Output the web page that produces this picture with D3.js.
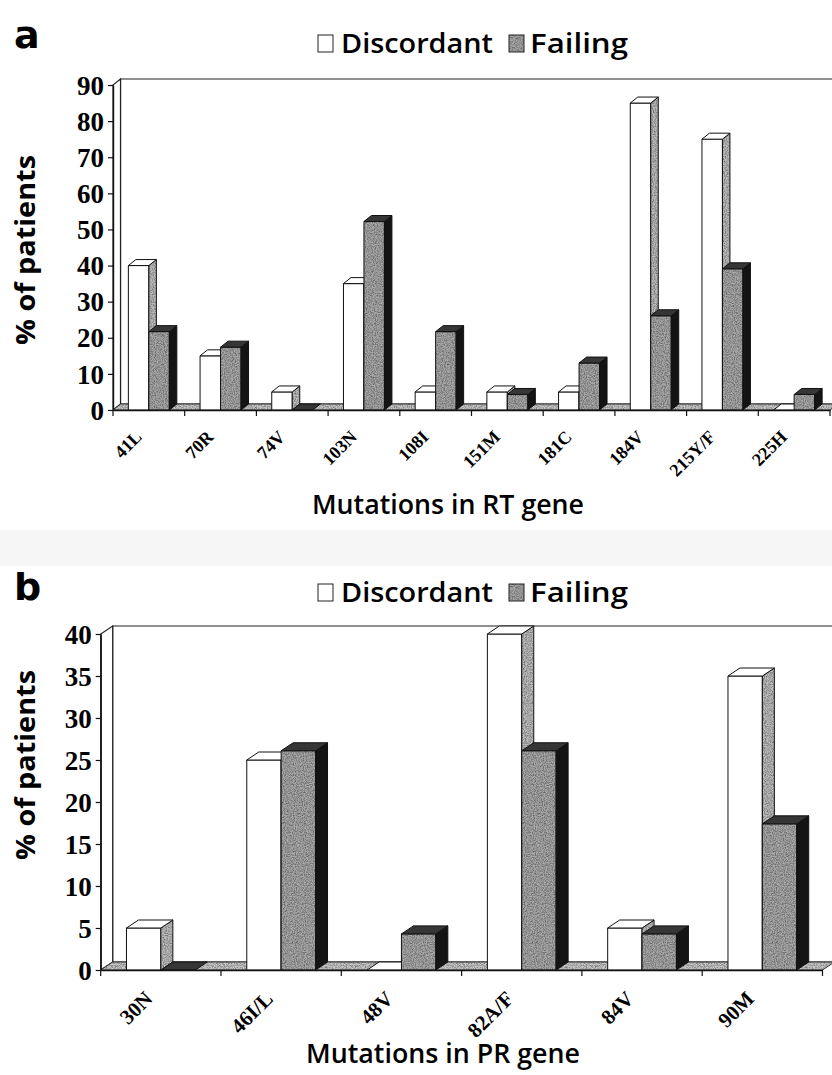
<!DOCTYPE html>
<html><head><meta charset="utf-8">
<script src="https://cdn.jsdelivr.net/npm/d3@7"></script>
<style>html,body{margin:0;padding:0;background:#fff;}svg{display:block;}</style>
</head><body><svg id="chart" width="832" height="1075"></svg>
<script>
// ---- data ----
const seriesNames = ["Discordant", "Failing"];
const rtCategories = ["41L","70R","74V","103N","108I","151M","181C","184V","215Y/F","225H"];
const rtDiscordant = [40, 15, 5, 35, 5, 5, 5, 85, 75, 0];
const rtFailing    = [21.7, 17.4, 0, 52.2, 21.7, 4.3, 13.0, 26.1, 39.1, 4.3];
const rtTicks = [0,10,20,30,40,50,60,70,80,90];
const prCategories = ["30N","46I/L","48V","82A/F","84V","90M"];
const prDiscordant = [5, 25, 0, 40, 5, 35];
const prFailing    = [0, 26.1, 4.3, 26.1, 4.3, 17.4];
const prTicks = [0,5,10,15,20,25,30,35,40];

const svg = d3.select("#chart");
const defs = svg.append("defs");
const f = defs.append("filter").attr("id","noise").attr("x",0).attr("y",0).attr("width","100%").attr("height","100%");
f.append("feTurbulence").attr("type","fractalNoise").attr("baseFrequency",0.9).attr("numOctaves",2).attr("seed",4);
f.append("feColorMatrix").attr("type","matrix").attr("values","0 0 0 0 0  0 0 0 0 0  0 0 0 0 0  0.9 0 0 0 -0.32");
function texture(id, base){
  const p = defs.append("pattern").attr("id",id).attr("patternUnits","userSpaceOnUse").attr("width",240).attr("height",240);
  p.append("rect").attr("width",240).attr("height",240).attr("fill",base);
  p.append("rect").attr("width",240).attr("height",240).attr("filter","url(#noise)");
}
texture("texFail","#a8a8a8");
texture("texSide","#bdbdbd");
texture("texFloor","#c8c8c8");

svg.append("rect").attr("x",0).attr("y",530).attr("width",832).attr("height",36).attr("fill","#f6f6f6");

const comic = "'Open Sans', 'DejaVu Sans', sans-serif";
const serif = "'Liberation Serif', 'Times New Roman', serif";

function drawPanel(o){
  const g = svg.append("g");
  const x = d3.scaleBand().domain(o.categories).range([o.x0, o.x1]).paddingInner(0).paddingOuter(0);
  const xs = d3.scaleBand().domain(seriesNames).range([0, x.bandwidth()]).paddingInner(0).paddingOuter(0.75);
  const y = d3.scaleLinear().domain([0, o.yMax]).range([o.y0, o.yTop]);
  const dx = o.dx, dy = o.dy, y0 = y(0), yT = y(o.yMax);
  const line = d3.line();
  // back wall
  g.append("rect").attr("x", o.x0+dx).attr("y", yT-dy).attr("width", o.x1-o.x0).attr("height", y0-yT)
    .attr("fill","#fff").attr("stroke","#555").attr("stroke-width",1.3);
  // left wall
  g.append("path").attr("d", line([[o.x0,y0],[o.x0,yT],[o.x0+dx,yT-dy],[o.x0+dx,y0-dy]])+"Z")
    .attr("fill","#fff").attr("stroke","#222").attr("stroke-width",1.2);
  // floor
  g.append("path").attr("d", line([[o.x0,y0],[o.x1,y0],[o.x1+dx,y0-dy],[o.x0+dx,y0-dy]])+"Z")
    .attr("fill","url(#texFloor)").attr("stroke","#333").attr("stroke-width",1);
  // bars
  const vals = [o.discordant, o.failing];
  const style = [
    {front:"#ffffff", side:"url(#texSide)", top:"#ffffff"},
    {front:"url(#texFail)", side:"#141414", top:"#363636"}
  ];
  o.categories.forEach((c,i)=>{
    seriesNames.forEach((s,k)=>{
      const v = vals[k][i];
      const bx = x(c) + xs(s), bw = xs.bandwidth(), by = y(v);
      const st = style[k];
      const bg = g.append("g").attr("stroke","#111").attr("stroke-width",1).attr("stroke-linejoin","round");
      if (v > 0) {
        bg.append("rect").attr("x",bx).attr("y",by).attr("width",bw).attr("height",y0-by).attr("fill",st.front);
        bg.append("path").attr("d", line([[bx+bw,by],[bx+bw+dx,by-dy],[bx+bw+dx,y0-dy],[bx+bw,y0]])+"Z").attr("fill",st.side);
      }
      bg.append("path").attr("d", line([[bx,by],[bx+dx,by-dy],[bx+bw+dx,by-dy],[bx+bw,by]])+"Z").attr("fill",st.top);
    });
  });
  // y axis
  const ya = d3.axisLeft(y).tickValues(o.ticks).tickSize(5).tickSizeOuter(0).tickPadding(4).tickFormat(d3.format("d"));
  const yg = g.append("g").attr("transform",`translate(${o.x0},0)`).call(ya);
  yg.select(".domain").attr("stroke","#111").attr("stroke-width",1.4);
  yg.selectAll(".tick line").attr("stroke","#111").attr("stroke-width",1.2);
  yg.selectAll(".tick text").attr("font-family",serif).attr("font-weight","bold").attr("font-size",o.yFont).attr("fill","#000").attr("dy","0.34em");
  // x axis baseline + ticks at category boundaries
  const xa = d3.axisBottom(x).tickSize(0).tickFormat("");
  const xg = g.append("g").attr("transform",`translate(0,${y0})`).call(xa);
  xg.select(".domain").attr("stroke","#111").attr("stroke-width",1.4);
  xg.selectAll(".tick").remove();
  const bounds = o.categories.map(c=>x(c)).concat([o.x1]);
  xg.selectAll("line.bt").data(bounds).join("line").attr("class","bt")
    .attr("x1",d=>d).attr("x2",d=>d).attr("y1",0).attr("y2",6).attr("stroke","#111").attr("stroke-width",1.2);
  // x category labels
  g.selectAll("text.xl").data(o.categories).join("text").attr("class","xl")
    .attr("transform", d=>`translate(${x(d)+x.bandwidth()/2 + o.lblDx},${y0 + o.lblDy}) rotate(-45)`)
    .attr("text-anchor","end").attr("font-family",serif).attr("font-weight","bold")
    .attr("font-size",o.xFont).attr("fill","#000").text(d=>d);
  // titles
  g.append("text").attr("transform",`translate(${o.yTitleX},${o.yTitleY}) rotate(-90)`).attr("text-anchor","middle")
    .attr("font-family",comic).attr("font-weight","bold").attr("font-size",26)
    .attr("textLength",190).attr("lengthAdjust","spacingAndGlyphs").text("% of patients");
  g.append("text").attr("x",o.xTitleX).attr("y",o.xTitleY).attr("text-anchor","middle")
    .attr("font-family",comic).attr("font-weight",600).attr("font-size",27)
    .attr("textLength",o.xTitleLen).attr("lengthAdjust","spacingAndGlyphs").text(o.xTitle);
  // panel letter
  g.append("text").attr("x",14).attr("y",o.letterY).attr("font-family","'DejaVu Sans', sans-serif").attr("font-weight","bold")
    .attr("font-size",38).text(o.letter);
  // legend
  const lg = g.append("g").attr("transform",`translate(0,${o.legendY})`);
  const items = [{name:seriesNames[0], sx:318, tx:341, len:152, fill:"#fff"},{name:seriesNames[1], sx:509, tx:530, len:98, fill:"url(#texFail)"}];
  items.forEach(it=>{
    lg.append("rect").attr("x",it.sx).attr("y",-18).attr("width",15).attr("height",17).attr("fill",it.fill).attr("stroke","#222").attr("stroke-width",1);
    lg.append("text").attr("x",it.tx).attr("y",0).attr("font-family",comic).attr("font-weight",600).attr("font-size",27)
      .attr("textLength",it.len).attr("lengthAdjust","spacingAndGlyphs").text(it.name);
  });
}

drawPanel({categories:rtCategories, discordant:rtDiscordant, failing:rtFailing, ticks:rtTicks, yMax:90,
  x0:113, x1:830, y0:410, yTop:85, dx:7.5, dy:6, yFont:27, xFont:18, lblDx:-6, lblDy:28,
  yTitleX:35, yTitleY:250, xTitleX:448, xTitleY:514, xTitleLen:272, xTitle:"Mutations in RT gene",
  letter:"a", letterY:48, legendY:53});

drawPanel({categories:prCategories, discordant:prDiscordant, failing:prFailing, ticks:prTicks, yMax:40,
  x0:100.7, x1:822.5, y0:970, yTop:634, dx:12, dy:8, yFont:27, xFont:21, lblDx:-7, lblDy:30,
  yTitleX:35, yTitleY:765, xTitleX:443, xTitleY:1063, xTitleLen:274, xTitle:"Mutations in PR gene",
  letter:"b", letterY:600, legendY:602});
</script></body></html>
